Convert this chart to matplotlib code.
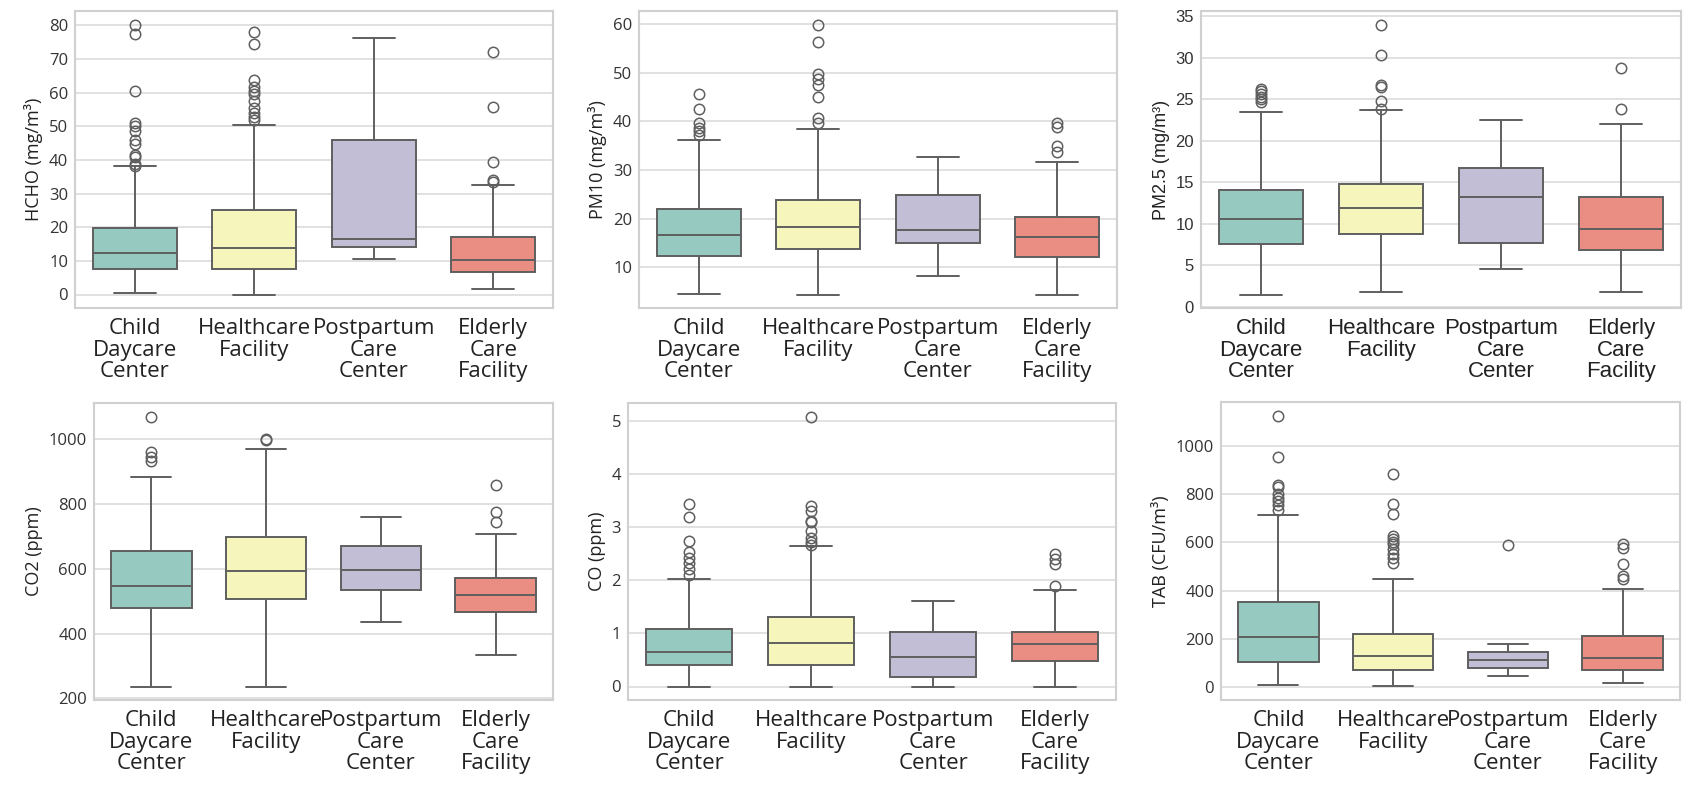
import colorsys
import matplotlib.pyplot as plt
import matplotlib.colors as mcolors
from matplotlib.ticker import MultipleLocator
import seaborn as sns

facilities = ['Child\nDaycare\nCenter', 'Healthcare\nFacility',
              'Postpartum\nCare\nCenter', 'Elderly\nCare\nFacility']

# (whisker low, q1, median, q3, whisker high) per facility
hcho_stats = [(0.5, 7.5, 12.4, 19.9, 38.2), (0.0, 7.5, 13.9, 25.0, 50.2),
              (10.6, 14.2, 16.6, 46.0, 76.3), (1.5, 6.6, 10.3, 17.2, 32.4)]
hcho_fliers = [[38.3, 38.8, 40.8, 41.3, 44.7, 46.0, 48.6, 50.1, 50.9, 60.5, 77.4, 80.2],
               [51.9, 52.7, 53.9, 55.4, 57.6, 59.7, 60.5, 61.6, 63.6, 74.5, 78.1],
               [],
               [33.5, 33.9, 39.3, 55.7, 72.1]]

pm10_stats = [(4.5, 12.3, 16.7, 21.9, 36.2), (4.4, 13.8, 18.2, 23.8, 38.4),
              (8.3, 14.9, 17.6, 24.9, 32.7), (4.4, 12.1, 16.3, 20.4, 31.6)]
pm10_fliers = [[37.1, 38.0, 38.6, 39.7, 42.5, 45.6],
               [39.7, 40.6, 45.0, 47.4, 48.8, 49.7, 56.3, 59.9],
               [],
               [33.7, 35.0, 38.8, 39.7]]

pm25_stats = [(1.45, 7.5, 10.55, 14.0, 23.5), (1.7, 8.75, 11.9, 14.75, 23.75),
              (4.55, 7.65, 13.25, 16.7, 22.5), (1.8, 6.8, 9.4, 13.25, 22.0)]
pm25_fliers = [[24.6, 25.0, 25.3, 25.6, 25.95, 26.2],
               [23.8, 24.8, 26.5, 26.7, 30.3, 34.0],
               [],
               [23.8, 28.75]]

co2_stats = [(237, 478, 547, 654, 884), (237, 506, 594, 699, 969),
             (436, 535, 597, 670, 759), (333, 466, 518, 572, 706)]
co2_fliers = [[934, 946, 962, 1070],
              [998, 1000],
              [],
              [743, 775, 858]]

co_stats = [(0.0, 0.41, 0.64, 1.075, 2.03), (0.0, 0.41, 0.81, 1.31, 2.65),
            (0.0, 0.17, 0.56, 1.03, 1.6), (0.0, 0.48, 0.80, 1.03, 1.81)]
co_fliers = [[2.1, 2.21, 2.32, 2.42, 2.54, 2.74, 3.19, 3.43],
             [2.67, 2.71, 2.8, 2.93, 3.09, 3.12, 3.31, 3.4, 5.08],
             [],
             [1.9, 2.3, 2.4, 2.5]]

tab_stats = [(12, 107, 209, 353, 713), (4, 71, 129, 221, 447),
             (46, 79, 113, 147, 180), (18, 71, 122, 212, 408)]
tab_fliers = [[735, 754, 771, 785, 799, 829, 839, 954, 1125],
              [515, 535, 553, 571, 592, 603, 615, 626, 717, 759, 882],
              [591],
              [447, 459, 510, 575, 592]]

sns.set_style('whitegrid')
plt.rcParams['font.family'] = ['Open Sans', 'DejaVu Sans']

base = ['#8dd3c7', '#ffffb3', '#bebada', '#fb8072']
colors = []
for c in base:
    h, l, s = colorsys.rgb_to_hls(*mcolors.to_rgb(c))
    colors.append(colorsys.hls_to_rgb(h, l, s * 0.75))

line_color = '#5f5f5f'

W, H = 1696, 795
fig = plt.figure(figsize=(W / 100, H / 100), dpi=100)


def make_axes(left, right, top, bottom):
    return fig.add_axes([left / W, 1 - bottom / H, (right - left) / W, (bottom - top) / H])


panels = [
    (make_axes(75, 553, 11, 308), hcho_stats, hcho_fliers, 'HCHO (mg/m³)', 10, 'Open Sans'),
    (make_axes(639, 1117, 11, 308), pm10_stats, pm10_fliers, 'PM10 (mg/m³)', 10, 'Open Sans'),
    (make_axes(1201, 1681, 11, 308), pm25_stats, pm25_fliers, 'PM2.5 (mg/m³)', 5, 'Liberation Sans'),
    (make_axes(94, 553, 403, 700), co2_stats, co2_fliers, 'CO2 (ppm)', 200, 'Open Sans'),
    (make_axes(628, 1116, 403, 700), co_stats, co_fliers, 'CO (ppm)', 1, 'Open Sans'),
    (make_axes(1221, 1680, 402, 700), tab_stats, tab_fliers, 'TAB (CFU/m³)', 200, 'Open Sans'),
]

for ax, stats, fliers, ylabel, step, font in panels:
    boxes = []
    for (lo, q1, med, q3, hi), fl in zip(stats, fliers):
        boxes.append({'whislo': lo, 'q1': q1, 'med': med, 'q3': q3,
                      'whishi': hi, 'fliers': fl})
    art = ax.bxp(boxes, positions=range(len(boxes)), widths=0.7, capwidths=0.35,
                 patch_artist=True,
                 boxprops=dict(edgecolor=line_color, linewidth=1.4),
                 whiskerprops=dict(color=line_color, linewidth=1.4),
                 capprops=dict(color=line_color, linewidth=1.4),
                 medianprops=dict(color=line_color, linewidth=1.4),
                 flierprops=dict(marker='o', markerfacecolor='none',
                                 markeredgecolor=line_color, markersize=7.5,
                                 markeredgewidth=1.1))
    for patch, c in zip(art['boxes'], colors):
        patch.set_facecolor(c)

    ax.set_xlim(-0.5, 3.5)
    ax.yaxis.set_major_locator(MultipleLocator(step))
    ax.xaxis.grid(False)
    ax.yaxis.grid(True, color='#dcdcdc', linewidth=1.2)
    for s in ax.spines.values():
        s.set_color('#d0d0d0')
        s.set_linewidth(1.5)
    ax.set_xticks(range(len(facilities)))
    ax.set_xticklabels(facilities, fontsize=16, family=font, linespacing=1.05,
                       color='#222222')
    ax.tick_params(axis='x', pad=7, length=0)
    ax.tick_params(axis='y', length=0, pad=5, labelsize=12, labelcolor='#333333')
    for t in ax.get_yticklabels():
        t.set_family(font)
    ax.set_ylabel(ylabel, fontsize=13, family=font, color='#222222')

fig.savefig('out.png', dpi=100)
